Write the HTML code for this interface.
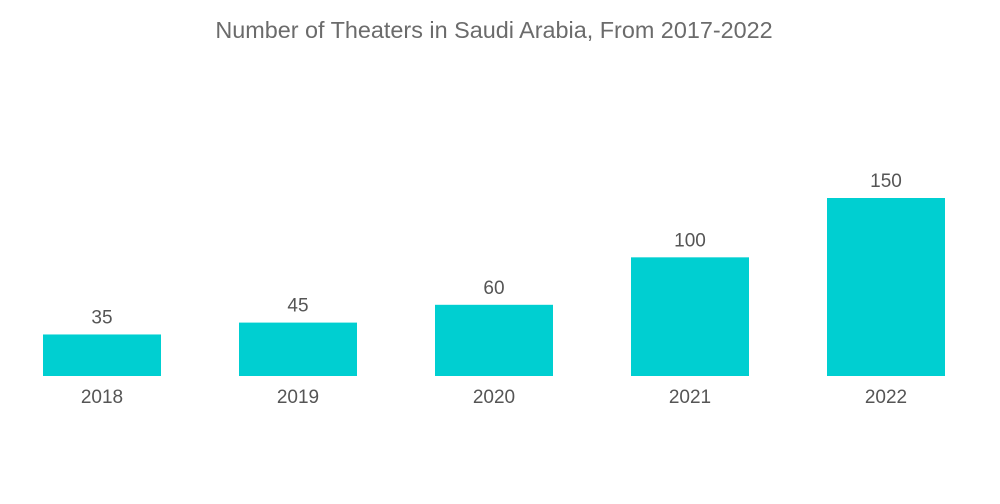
<!DOCTYPE html>
<html><head><meta charset="utf-8"><style>
html,body{margin:0;padding:0;background:#fff;}
svg{display:block;font-family:"Liberation Sans",sans-serif;}
</style></head><body>
<svg id="chart" width="1000" height="504" viewBox="0 0 1000 504">
<text x="494" y="38" text-anchor="middle" font-size="23.4" fill="#6b6b6b">Number of Theaters in Saudi Arabia, From 2017-2022</text>
<g id="bars"></g>
</svg>
<script>
const categories = ["2018","2019","2020","2021","2022"];
const values = [35,45,60,100,150];
const svg = document.getElementById('bars');
const NS = "http://www.w3.org/2000/svg";
const baseline = 376, plotTop = 198, maxV = 150;
const left = 43, step = 196, barW = 118;
function y(v){ return baseline - (v/maxV)*(baseline-plotTop); }
function x(i){ return left + i*step; }
categories.forEach((c,i)=>{
  const v = values[i];
  const r = document.createElementNS(NS,'rect');
  r.setAttribute('x', x(i)); r.setAttribute('y', y(v));
  r.setAttribute('width', barW); r.setAttribute('height', baseline - y(v));
  r.setAttribute('fill', '#00cfd1');
  
  
  svg.appendChild(r);
  const t = document.createElementNS(NS,'text');
  t.setAttribute('x', x(i)+barW/2); t.setAttribute('y', y(v)-11);
  t.setAttribute('text-anchor','middle'); t.setAttribute('font-size','19'); t.setAttribute('fill','#555');
  t.textContent = v;
  
  
  svg.appendChild(t);
  const l = document.createElementNS(NS,'text');
  l.setAttribute('x', x(i)+barW/2); l.setAttribute('y', 403);
  l.setAttribute('text-anchor','middle'); l.setAttribute('font-size','19'); l.setAttribute('fill','#555');
  l.textContent = c;
  
  
  svg.appendChild(l);
});
</script>
</body></html>
